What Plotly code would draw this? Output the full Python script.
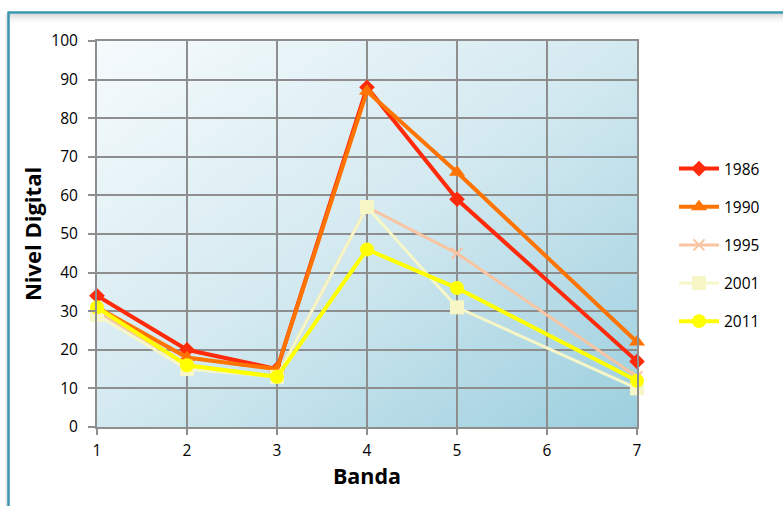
import base64
import plotly.graph_objects as go

# Band numbers and mean digital values per year (no measurement for band 6)
bandas = [1, 2, 3, 4, 5, 6, 7]
anios = ["1986", "1990", "1995", "2001", "2011"]
v1986 = [34, 20, 15, 88, 59, None, 17]
v1990 = [31, 18, 15, 87, 66, None, 22]
v1995 = [30, 16, 13, 57, 45, None, 13]
v2001 = [29, 15, 13, 57, 31, None, 10]
v2011 = [31, 16, 13, 46, 36, None, 12]

series = [v1986, v1990, v1995, v2001, v2011]
colores = ["#ff2a0a", "#ff7300", "#f9c4a2", "#f7f6c6", "#ffff00"]
simbolos = ["diamond", "triangle-up", "x-thin", "square", "circle"]
tam = [12, 14, 11, 14, 14]
grosor = [4, 4, 3, 3, 4]

fig = go.Figure()
for nombre, vals, c, s, m, w in zip(anios, series, colores, simbolos, tam, grosor):
    fig.add_trace(go.Scatter(
        x=bandas, y=vals, name=nombre, mode="lines+markers",
        connectgaps=True, cliponaxis=False, legendgroup=nombre,
        line=dict(color=c, width=w),
        marker=dict(symbol=s, size=m, color=c,
                    line=dict(color=c, width=2 if s == "x-thin" else 0)),
    ))

# gradient fill behind the plotting area
svg = (
    '<svg xmlns="http://www.w3.org/2000/svg" width="540" height="386">'
    '<defs><linearGradient id="g" x1="0" y1="0" x2="1" y2="1">'
    '<stop offset="0" stop-color="#f6fbfd"/>'
    '<stop offset="0.5" stop-color="#d3e9f0"/>'
    '<stop offset="1" stop-color="#9ccfde"/>'
    '</linearGradient></defs>'
    '<rect width="540" height="386" fill="url(#g)"/></svg>'
)
src = "data:image/svg+xml;base64," + base64.b64encode(svg.encode()).decode()

L, T, W, H = 97, 41, 540, 386


def px(x):
    return (x - L) / W


def py(y):
    return (T + H - y) / H


fuente = "'Open Sans', sans-serif"
grid = "#8e8e8e"

shapes = []
# soft shadow under the frame's top edge
for i, col in enumerate(["#dcdcdc", "#e6e6e6", "#eeeeee", "#f4f4f4", "#f9f9f9"]):
    shapes.append(dict(type="line", xref="paper", yref="paper",
                       x0=px(9), x1=px(790), y0=py(15 + i * 1.5), y1=py(15 + i * 1.5),
                       line=dict(color=col, width=2)))
shapes.append(dict(type="line", xref="paper", yref="paper",
                   x0=px(8.5), x1=px(790), y0=py(12.5), y1=py(12.5),
                   line=dict(color="#3a96ad", width=2.5)))
shapes.append(dict(type="line", xref="paper", yref="paper",
                   x0=px(6.5), x1=px(6.5), y0=py(14), y1=py(520),
                   line=dict(color="#e4e4e4", width=2)))
shapes.append(dict(type="line", xref="paper", yref="paper",
                   x0=px(8.5), x1=px(8.5), y0=py(11.5), y1=py(520),
                   line=dict(color="#3a96ad", width=2.5)))

fig.update_layout(
    width=783, height=506,
    margin=dict(l=L, r=783 - L - W, t=T, b=506 - T - H),
    paper_bgcolor="white", plot_bgcolor="#d3e9f0",
    font=dict(family=fuente, size=15.5, color="black"),
    images=[dict(source=src, xref="paper", yref="paper", x=0, y=1,
                 sizex=1, sizey=1, sizing="stretch", layer="below")],
    shapes=shapes,
    showlegend=True,
    legend=dict(x=px(674), y=py(152), xanchor="left", yanchor="top",
                font=dict(family=fuente, size=15.5), tracegroupgap=15,
                bgcolor="rgba(0,0,0,0)", itemwidth=40),
    xaxis=dict(range=[1, 7], tickvals=bandas, ticks="outside", ticklen=6,
               tickcolor=grid, tickwidth=2, showgrid=True, gridcolor=grid,
               gridwidth=2, showline=True, linecolor=grid, linewidth=2,
               mirror=True, zeroline=False, ticklabelstandoff=2,
               title=dict(text="<b>Banda</b>", font=dict(size=21.5), standoff=4)),
    yaxis=dict(range=[0, 100], dtick=10, ticks="outside", ticklen=7,
               tickcolor=grid, tickwidth=2, showgrid=True, gridcolor=grid,
               gridwidth=2, showline=True, linecolor=grid, linewidth=2,
               mirror=True, zeroline=False, ticklabelstandoff=7,
               title=dict(text="<b>Nivel Digital</b>", font=dict(size=22), standoff=4)),
)

fig.write_html("out.html")
